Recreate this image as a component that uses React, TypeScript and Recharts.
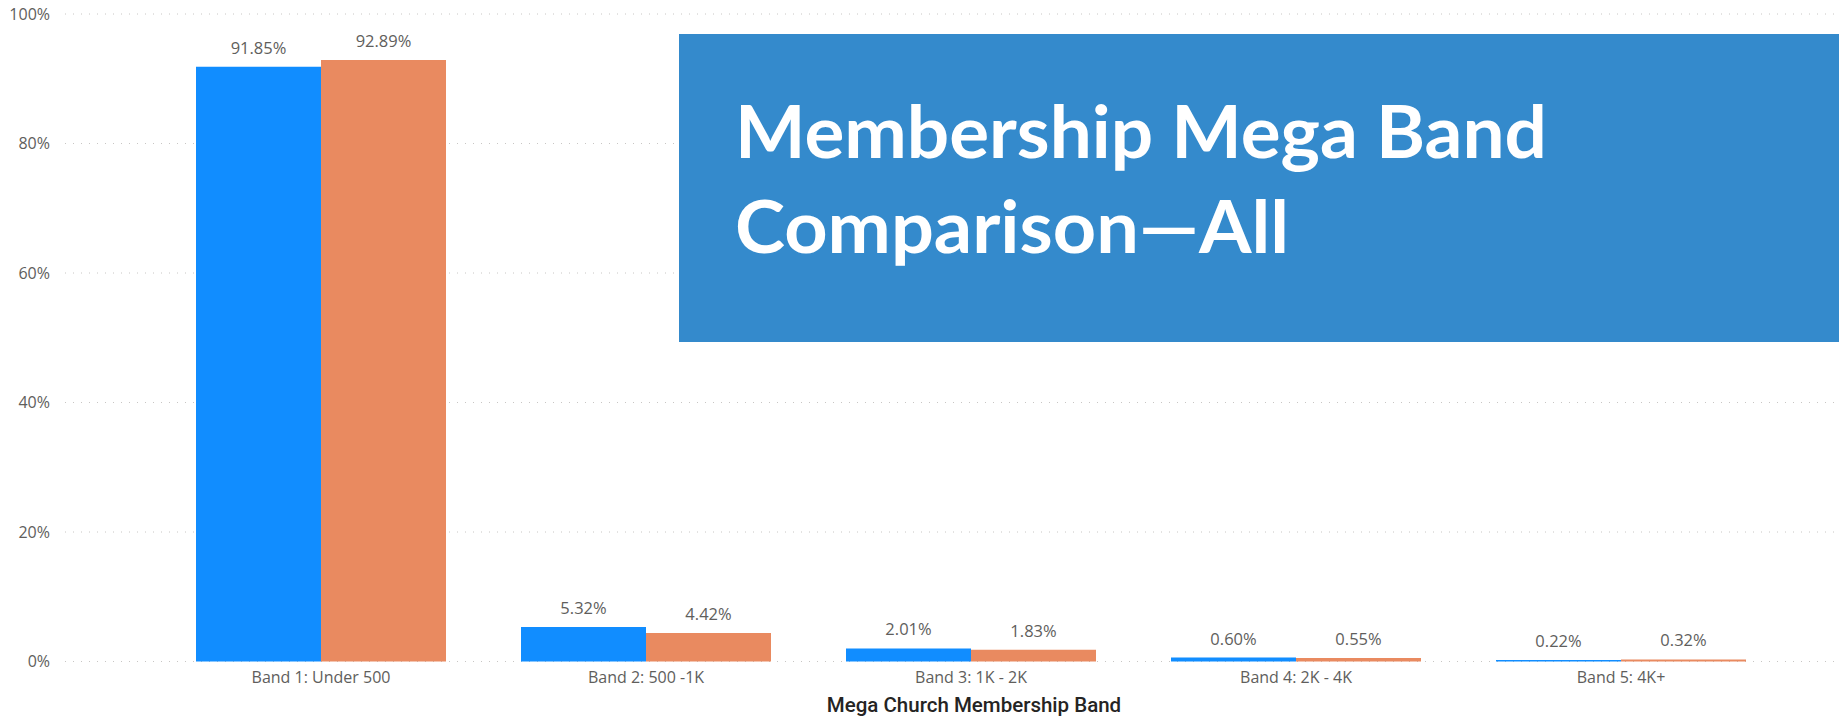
import React from 'react';
import { BarChart, Bar, XAxis, YAxis, CartesianGrid, LabelList } from 'recharts';

// values (percent of churches in each band)
const bands = ['Band 1: Under 500', 'Band 2: 500 -1K', 'Band 3: 1K - 2K', 'Band 4: 2K - 4K', 'Band 5: 4K+'];
const blueValues = [91.85, 5.32, 2.01, 0.6, 0.22];
const orangeValues = [92.89, 4.42, 1.83, 0.55, 0.32];
const yTicks = [0, 20, 40, 60, 80, 100];

const titleLines = ['Membership Mega Band', 'Comparison\u2014All'];

const W = 1839;
const H = 722;
const labelFont = '"Open Sans", "Noto Sans", sans-serif';

const data = bands.map((band, i) => ({
    band,
    blue: blueValues[i],
    orange: orangeValues[i],
}));

const pct = (v: number) => `${Number(v).toFixed(2)}%`;

const App: React.FC = () => {
    return (
        <div style={{ position: 'absolute', left: 0, top: 0, width: W, height: H, background: '#fff' }}>
            <BarChart
                width={W}
                height={H}
                data={data}
                margin={{ top: 14, right: 0, left: 0, bottom: 10.5 }}
                barCategoryGap={37.5}
                barGap={0}
            >
                <CartesianGrid
                    vertical={false}
                    stroke="#C8C6C4"
                    strokeDasharray="1 7"
                />
                <XAxis
                    dataKey="band"
                    height={50}
                    padding={{ left: 93.5, right: 55.5 }}
                    axisLine={false}
                    tickLine={false}
                    tickSize={0}
                    tickMargin={10}
                    interval={0}
                    tick={{ fill: '#605E5C', fontSize: 16, fontFamily: labelFont }}
                    label={{
                        value: 'Mega Church Membership Band',
                        position: 'insideBottom',
                        offset: 0,
                        dx: 22,
                        fill: '#252423',
                        fontSize: 20.5,
                        fontWeight: 500,
                        fontFamily: 'Roboto, sans-serif',
                    }}
                />
                <YAxis
                    width={65}
                    domain={[0, 100]}
                    ticks={yTicks}
                    axisLine={false}
                    tickLine={false}
                    tickSize={0}
                    tickMargin={15}
                    tickFormatter={(v) => `${v}%`}
                    tick={{ fill: '#605E5C', fontSize: 16, fontFamily: labelFont }}
                />
                <Bar dataKey="blue" fill="#118DFF" isAnimationActive={false}>
                    <LabelList
                        dataKey="blue"
                        position="top"
                        offset={13}
                        formatter={pct}
                        fill="#605E5C"
                        fontSize={16.5}
                        fontFamily={labelFont}
                    />
                </Bar>
                <Bar dataKey="orange" fill="#E98A60" isAnimationActive={false}>
                    <LabelList
                        dataKey="orange"
                        position="top"
                        offset={13}
                        formatter={pct}
                        fill="#605E5C"
                        fontSize={16.5}
                        fontFamily={labelFont}
                    />
                </Bar>
            </BarChart>

            {/* title banner pasted over the chart */}
            <svg
                width={W - 679}
                height={308}
                style={{ position: 'absolute', left: 679, top: 34 }}
            >
                <rect x={0} y={0} width={W - 679} height={308} fill="#348ACC" />
                <text
                    x={56}
                    y={124}
                    fill="#fff"
                    fontSize={72}
                    fontWeight={700}
                    fontFamily="Lato, sans-serif"
                    textLength={812}
                    lengthAdjust="spacingAndGlyphs"
                >
                    {titleLines[0]}
                </text>
                <text
                    x={56}
                    y={219}
                    fill="#fff"
                    fontSize={72}
                    fontWeight={700}
                    fontFamily="Lato, sans-serif"
                    textLength={554}
                    lengthAdjust="spacingAndGlyphs"
                >
                    {titleLines[1]}
                </text>
            </svg>
        </div>
    );
};

export default App;
